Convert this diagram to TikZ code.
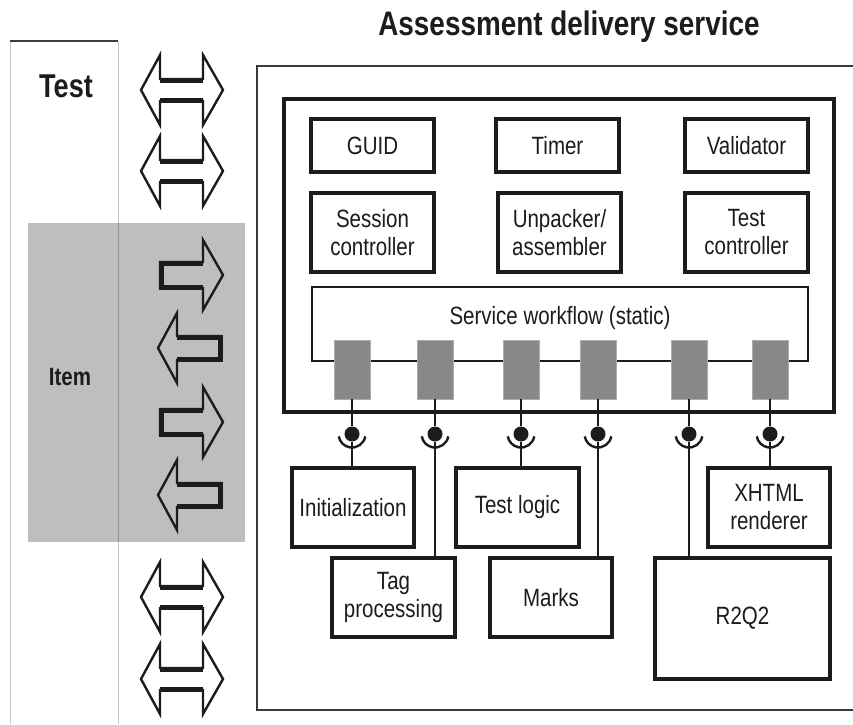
\documentclass[tikz,border=0pt]{standalone}
\usepackage{fontspec}
\setmainfont{Liberation Sans}[FakeStretch=0.82]
\definecolor{ink}{HTML}{1C1C1C}
\definecolor{panel}{HTML}{BEBEBE}
\definecolor{port}{HTML}{888888}
\definecolor{frame}{HTML}{3A3A3A}
\newcommand\DArrow[1]{%
  \draw[ink, line width=2.4pt, line join=miter] (141,#1) -- (160,#1-35) -- (160,#1-11) -- (203,#1-11) -- (203,#1-35) -- (223,#1) -- (203,#1+35) -- (203,#1+11) -- (160,#1+11) -- (160,#1+35) -- cycle;
  \draw[ink, line width=5pt] (160,#1-10) -- (203,#1-10) (160,#1+10) -- (203,#1+10);}
\newcommand\RArrow[1]{%
  \draw[ink, line width=2.4pt, line join=miter] (160,#1-13) -- (203,#1-13) -- (203,#1-35) -- (223,#1) -- (203,#1+35) -- (203,#1+13) -- (160,#1+13) -- cycle;
  \draw[ink, line width=5pt, line join=miter] (203,#1-12) -- (161,#1-12) -- (161,#1+12) -- (203,#1+12);}
\newcommand\LArrow[1]{%
  \draw[ink, line width=2.4pt, line join=miter] (158,#1) -- (177,#1-35) -- (177,#1-12) -- (221,#1-12) -- (221,#1+12) -- (177,#1+12) -- (177,#1+35) -- cycle;
  \draw[ink, line width=5pt, line join=miter] (177,#1-11) -- (220,#1-11) -- (220,#1+11) -- (177,#1+11);}
\begin{document}
\begin{tikzpicture}[x=1pt,y=-1pt,
  txt/.style={text=ink, inner sep=0pt, font=\fontsize{25}{28}\selectfont, align=center},
  box/.style={txt, draw=ink, line width=3.2pt, minimum width=123pt},
  portbox/.style={draw=port!70!white, line width=0.8pt, fill=port, minimum width=36pt, minimum height=59pt, inner sep=0pt},
  ball/.style={circle, fill=ink, minimum size=15pt, inner sep=0pt},
  wire/.style={draw=ink, line width=2.4pt},
  cup/.style={draw=ink, line width=2.4pt}]
\useasboundingbox (0,0) rectangle (853,724);
\fill[white] (0,0) rectangle (853,724);

% left panel
\fill[panel] (28,223) rectangle (245,542);
\draw[black, opacity=0.22, line width=1pt] (10,41) -- (10,724) (118,41) -- (118,724);
\draw[ink!85, line width=1.4pt] (10,41) -- (118,41);
\node[txt, font=\fontsize{33}{36}\selectfont\bfseries] (testlbl) at (66,86) {Test};
\node[txt, font=\fontsize{25}{28}\selectfont\bfseries] (itemlbl) at (70,377) {Item};

% arrows
\DArrow{90}
\DArrow{171}
\RArrow{275}
\LArrow{348}
\RArrow{422}
\LArrow{495}
\DArrow{597}
\DArrow{679}

% title and frames
\node[txt, anchor=base, font=\fontsize{34}{38}\selectfont\bfseries] (title) at (569,35) {Assessment delivery service};
\draw[frame, line width=2pt] (853,66) -- (257,66) -- (257,710) -- (853,710);
\node[draw=ink, line width=3.5pt, minimum width=550pt, minimum height=313pt, inner sep=0pt] (core) at (559,255.5) {};

% top components
\node[box, minimum height=53pt] (guid) at (372.5,145.5) {GUID};
\node[box, minimum height=53pt] (timer) at (557.5,145.5) {Timer};
\node[box, minimum height=53pt] (valid) at (746.5,145.5) {Validator};
\node[box, minimum height=79pt] (sess) at (372.5,232.5) {Session\\controller};
\node[box, minimum height=79pt] (unpack) at (559.5,232.5) {Unpacker/\\assembler};
\node[box, minimum height=79pt] (testc) at (746.5,232.5) {Test\\controller};

% workflow
\node[draw=ink, line width=2.8pt, minimum width=496pt, minimum height=74pt, inner sep=0pt] (wf) at (560,324) {};
\node[txt] (wftext) at (560,318) {Service workflow (static)};

% lower components
\node[box, minimum width=122pt, minimum height=79pt] (init) at (353,507.5) {Initialization};
\node[box, minimum height=79pt] (tag) at (393.5,597.5) {Tag\\processing};
\node[box, minimum height=79pt] (logic) at (517.5,507.5) {Test logic};
\node[box, minimum width=122pt, minimum height=79pt] (marks) at (551,597.5) {Marks};
\node[box, minimum width=122pt, minimum height=79pt] (xhtml) at (769,507.5) {XHTML\\renderer};
\node[box, minimum width=175pt, minimum height=121pt] (r2q2) at (742.5,618.5) {R2Q2};

% ports, sockets and wires
\foreach \i/\x/\t in {1/352/init, 2/435/tag, 3/521/logic, 4/598/marks, 5/689/r2q2, 6/770/xhtml}{
  \node[portbox] (p\i) at (\x,369.5) {};
  \node[ball] (s\i) at (\x,434) {};
  \draw[wire] (p\i.south) -- (s\i.north);
  \draw[wire] (s\i.south) -- (s\i.south |- \t.north);
  \draw[cup] (\x,434) ++(10:13.5) arc[start angle=10, end angle=170, radius=13.5];
}
\end{tikzpicture}
\end{document}
